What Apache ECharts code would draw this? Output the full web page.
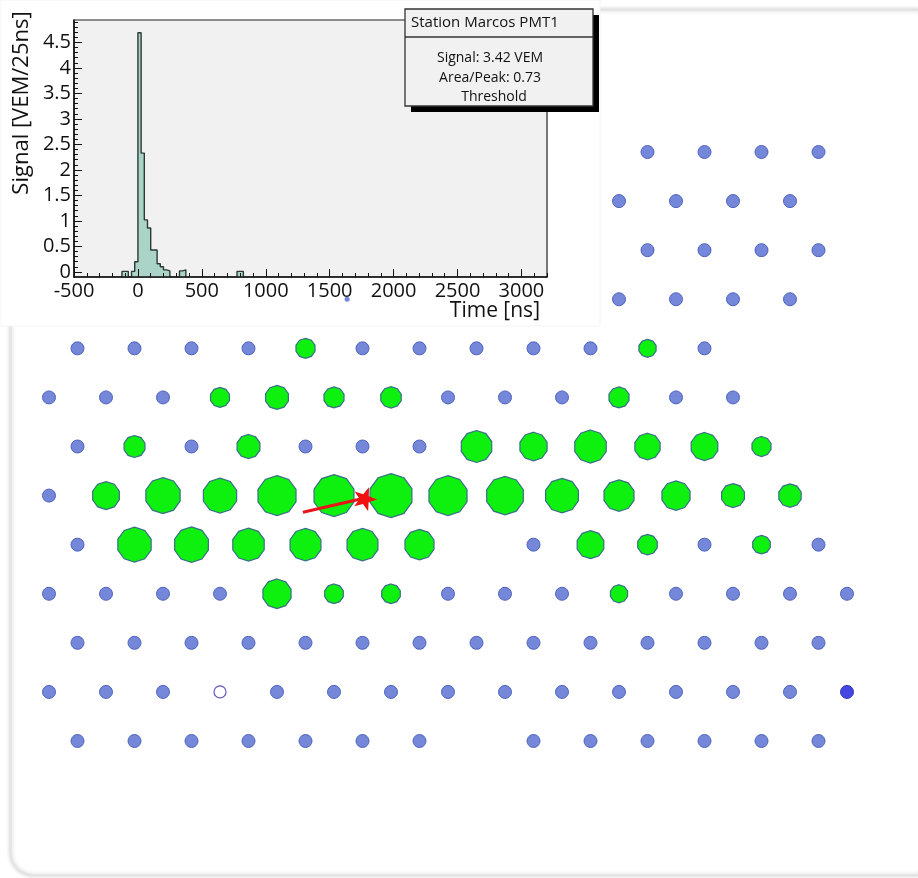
<!DOCTYPE html>
<html><head><meta charset="utf-8">
<script src="https://cdn.jsdelivr.net/npm/echarts@6/dist/echarts.min.js"></script>
<style>html,body{margin:0;padding:0;background:#fff}#c{width:918px;height:878px}</style>
</head><body><div id="c"></div>
<script>
// ---------- Histogram (trace of Station Marcos PMT1) ----------
const histBinStart = [-125, -100, -50, -25, 0, 25, 50, 75, 100, 125, 150, 175, 200, 225, 325, 350, 775, 800];
const histSignal   = [0.01, 0.01, 0.01, 0.2, 4.69, 2.33, 1.02, 0.86, 0.43, 0.43, 0.16, 0.1, 0.04, 0.02, 0.02, 0.04, 0.01, 0.01];
const histBinWidth = 25;
const timeTicks    = [-500, 0, 500, 1000, 1500, 2000, 2500, 3000];
const signalTicks  = [0, 0.5, 1, 1.5, 2, 2.5, 3, 3.5, 4, 4.5];

// ---------- Station array (hex grid: column k, row r) ----------
const blueStations = [
  [21,0],[23,0],[25,0],[27,0],
  [20,1],[22,1],[24,1],[26,1],
  [21,2],[23,2],[25,2],[27,2],
  [20,3],[22,3],[24,3],[26,3],
  [1,4],[3,4],[5,4],[7,4],[11,4],[13,4],[15,4],[17,4],[19,4],[23,4],
  [0,5],[2,5],[4,5],[14,5],[16,5],[18,5],[22,5],[24,5],
  [1,6],[5,6],[9,6],[11,6],[13,6],
  [0,7],
  [1,8],[17,8],[23,8],[27,8],
  [0,9],[2,9],[4,9],[6,9],[14,9],[16,9],[18,9],[22,9],[24,9],[26,9],[28,9],
  [1,10],[3,10],[5,10],[7,10],[9,10],[11,10],[13,10],[15,10],[17,10],[19,10],[21,10],[23,10],[25,10],[27,10],
  [0,11],[2,11],[4,11],[8,11],[10,11],[12,11],[14,11],[16,11],[18,11],[20,11],[22,11],[24,11],[26,11],
  [1,12],[3,12],[5,12],[7,12],[9,12],[11,12],[13,12],[17,12],[19,12],[21,12],[23,12],[25,12],[27,12]
];
const partialStations = [[10.46,3]];
const hollowStations  = [[6,11]];
const selectedStations = [[28,11]];
// [k, r, signal VEM]
const triggeredStations = [
  [9,4,11.1],[21,4,9.0],
  [6,5,11.1],[8,5,16.0],[10,5,12.3],[12,5,12.8],[20,5,12.3],
  [3,6,13.4],[7,6,16.0],[15,6,28.4],[17,6,22.6],[19,6,30.3],[21,6,19.5],[23,6,21.8],[25,6,11.1],
  [2,7,21.8],[4,7,36.0],[6,7,34.0],[8,7,44.4],[10,7,49.0],[12,7,53.8],[14,7,44.4],[16,7,41.2],[18,7,33.1],[20,7,27.6],[22,7,24.2],[24,7,16.0],[26,7,15.3],
  [3,8,34.0],[5,8,35.0],[7,8,30.3],[9,8,29.3],[11,8,29.3],[13,8,25.8],[19,8,21.8],[21,8,11.7],[25,8,9.5],
  [8,9,24.2],[10,9,10.6],[12,9,10.6],[20,9,9.0]
];
const showerCore = [11.09, 7.05];
const showerAxisFoot = [8.91, 7.34];

// ---------- build ----------
function polyPath(n, rot) {
  const pts = [];
  for (let i = 0; i < n; i++) {
    const a = rot + i * 2 * Math.PI / n;
    pts.push((50 + 50 * Math.cos(a)).toFixed(2) + ' ' + (50 + 50 * Math.sin(a)).toFixed(2));
  }
  return 'path://M' + pts.join(' L') + ' Z';
}
function starPath() {
  const pts = [];
  for (let i = 0; i < 10; i++) {
    const a = -Math.PI / 2 + i * Math.PI / 5;
    const rr = i % 2 === 0 ? 50 : 20;
    pts.push((50 + rr * Math.cos(a)).toFixed(2) + ' ' + (50 + rr * Math.sin(a)).toFixed(2));
  }
  return 'path://M' + pts.join(' L') + ' Z';
}
const FLOOR = -0.1;
const runs = [];
let cur = null;
histBinStart.forEach((s, i) => {
  if (!cur || s !== cur.end) {
    if (cur) { cur.pts.push([cur.end, FLOOR]); runs.push(cur); }
    cur = { pts: [[s, FLOOR]], end: s };
  }
  cur.pts.push([s, histSignal[i]]);
  cur.end = s + histBinWidth;
});
if (cur) { cur.pts.push([cur.end, FLOOR]); runs.push(cur); }

const minorTime = [];
for (let t = -500; t <= 3200; t += 100) if (t % 500 !== 0) minorTime.push(t);
const minorSig = [];
for (let v = 1; v <= 49; v++) if (v % 5 !== 0) minorSig.push(v / 10);

const FONT = "'Open Sans', 'Liberation Sans', sans-serif";
const histSeries = runs.map(r => ({
  type: 'line', xAxisIndex: 1, yAxisIndex: 1, data: r.pts, step: 'end',
  symbol: 'none', silent: true, z: 5,
  lineStyle: { color: '#2b3a35', width: 1.4 },
  areaStyle: { color: '#a9d4c7', opacity: 1, origin: 'start' }
}));

const chart = echarts.init(document.getElementById('c'), null, { renderer: 'canvas' });
chart.setOption({
  backgroundColor: '#ffffff',
  animation: false,
  graphic: [
    { type: 'rect', z: 0, shape: { x: 11, y: 10, width: 925, height: 865, r: 22 },
      style: { fill: '#ffffff', stroke: '#e4e4e4', lineWidth: 2, shadowBlur: 4, shadowColor: 'rgba(0,0,0,0.18)' } },
    { type: 'rect', z: 1, shape: { x: 0, y: 0, width: 600, height: 326 },
      style: { fill: '#ffffff', stroke: '#f4f4f4', lineWidth: 1 } },
    { type: 'text', z: 30, x: 22, y: 103, rotation: Math.PI / 2,
      style: { text: 'Signal [VEM/25ns]', font: "22px " + FONT, fill: '#111', align: 'center', verticalAlign: 'middle' } },
    { type: 'text', z: 30, x: 540, y: 311,
      style: { text: 'Time [ns]', font: "21px " + FONT, fill: '#111', align: 'right', verticalAlign: 'middle' } },
    { type: 'rect', z: 40, shape: { x: 411, y: 15, width: 188, height: 97 }, style: { fill: '#000' } },
    { type: 'rect', z: 41, shape: { x: 405, y: 9, width: 188, height: 97 },
      style: { fill: '#f1f1f1', stroke: '#333', lineWidth: 1.3 } },
    { type: 'line', z: 42, shape: { x1: 405, y1: 37, x2: 593, y2: 37 }, style: { stroke: '#333', lineWidth: 1.3 } },
    { type: 'text', z: 43, x: 411, y: 23,
      style: { text: 'Station Marcos PMT1', font: "15px " + FONT, fill: '#111', align: 'left', verticalAlign: 'middle' } },
    { type: 'text', z: 43, x: 490, y: 58,
      style: { text: 'Signal: 3.42 VEM', font: "14px " + FONT, fill: '#111', align: 'center', verticalAlign: 'middle' } },
    { type: 'text', z: 43, x: 490, y: 78,
      style: { text: 'Area/Peak: 0.73', font: "14px " + FONT, fill: '#111', align: 'center', verticalAlign: 'middle' } },
    { type: 'text', z: 43, x: 494, y: 97,
      style: { text: 'Threshold', font: "14px " + FONT, fill: '#111', align: 'center', verticalAlign: 'middle' } }
  ],
  grid: [
    { left: 49, right: 71, top: 152, bottom: 137 },
    { left: 74, top: 20, width: 473, height: 257, show: true, backgroundColor: '#f1f1f1', borderColor: '#222', borderWidth: 1.2, z: 3 }
  ],
  xAxis: [
    { gridIndex: 0, type: 'value', min: 0, max: 28, show: false },
    { gridIndex: 1, type: 'value', min: -500, max: 3200, z: 6,
      splitLine: { show: false },
      axisLine: { show: true, onZero: false, lineStyle: { color: '#111', width: 1.5 } },
      axisTick: { show: true, inside: true, length: 8, customValues: timeTicks, lineStyle: { color: '#111', width: 1 } },
      axisLabel: { customValues: timeTicks, formatter: v => String(v), margin: 4, color: '#111', fontSize: 20, fontFamily: FONT } },
    { gridIndex: 1, type: 'value', min: -500, max: 3200, position: 'bottom', z: 6,
      splitLine: { show: false }, axisLine: { show: false, onZero: false },
      axisTick: { show: true, inside: true, length: 4, customValues: minorTime, lineStyle: { color: '#111', width: 1 } },
      axisLabel: { show: false } }
  ],
  yAxis: [
    { gridIndex: 0, type: 'value', min: 0, max: 12, inverse: true, show: false },
    { gridIndex: 1, type: 'value', min: FLOOR, max: 4.94, z: 6,
      splitLine: { show: false },
      axisLine: { show: true, onZero: false, lineStyle: { color: '#111', width: 1.5 } },
      axisTick: { show: true, inside: true, length: 8, customValues: signalTicks, lineStyle: { color: '#111', width: 1 } },
      axisLabel: { customValues: signalTicks, formatter: v => String(v), margin: 3, color: '#111', fontSize: 20, fontFamily: FONT } },
    { gridIndex: 1, type: 'value', min: FLOOR, max: 4.94, position: 'left', z: 6,
      splitLine: { show: false }, axisLine: { show: false, onZero: false },
      axisTick: { show: true, inside: true, length: 4, customValues: minorSig, lineStyle: { color: '#111', width: 1 } },
      axisLabel: { show: false } }
  ],
  series: [
    { type: 'scatter', xAxisIndex: 0, yAxisIndex: 0, data: blueStations, symbol: 'circle', symbolSize: 13, z: 2,
      itemStyle: { color: '#7487d8', borderColor: '#4f63c0', borderWidth: 1, opacity: 1 } },
    { type: 'scatter', xAxisIndex: 0, yAxisIndex: 0, data: partialStations, symbol: 'circle', symbolSize: 5, z: 2,
      itemStyle: { color: '#7487d8', borderWidth: 0, opacity: 1 } },
    { type: 'scatter', xAxisIndex: 0, yAxisIndex: 0, data: hollowStations, symbol: 'circle', symbolSize: 12, z: 2,
      itemStyle: { color: '#ffffff', borderColor: '#6a4fc0', borderWidth: 1.2, opacity: 1 } },
    { type: 'scatter', xAxisIndex: 0, yAxisIndex: 0, data: selectedStations, symbol: 'circle', symbolSize: 13, z: 2,
      itemStyle: { color: '#4646e0', borderColor: '#3636c0', borderWidth: 1, opacity: 1 } },
    { type: 'scatter', xAxisIndex: 0, yAxisIndex: 0, data: triggeredStations, z: 2,
      symbol: polyPath(10, -Math.PI / 2), symbolKeepAspect: true,
      symbolSize: v => 6 * Math.sqrt(v[2]),
      itemStyle: { color: '#0ef00e', borderColor: '#3a6f88', borderWidth: 1.2, opacity: 1 } },
    { type: 'line', xAxisIndex: 0, yAxisIndex: 0, data: [showerAxisFoot, showerCore], symbol: 'none', z: 3,
      lineStyle: { color: '#e8141a', width: 3 } },
    { type: 'scatter', xAxisIndex: 0, yAxisIndex: 0, data: [showerCore], z: 4,
      symbol: starPath(), symbolSize: 24, symbolRotate: -20, symbolKeepAspect: true,
      itemStyle: { color: '#f01010', opacity: 1 } }
  ].concat(histSeries)
});
</script></body></html>
